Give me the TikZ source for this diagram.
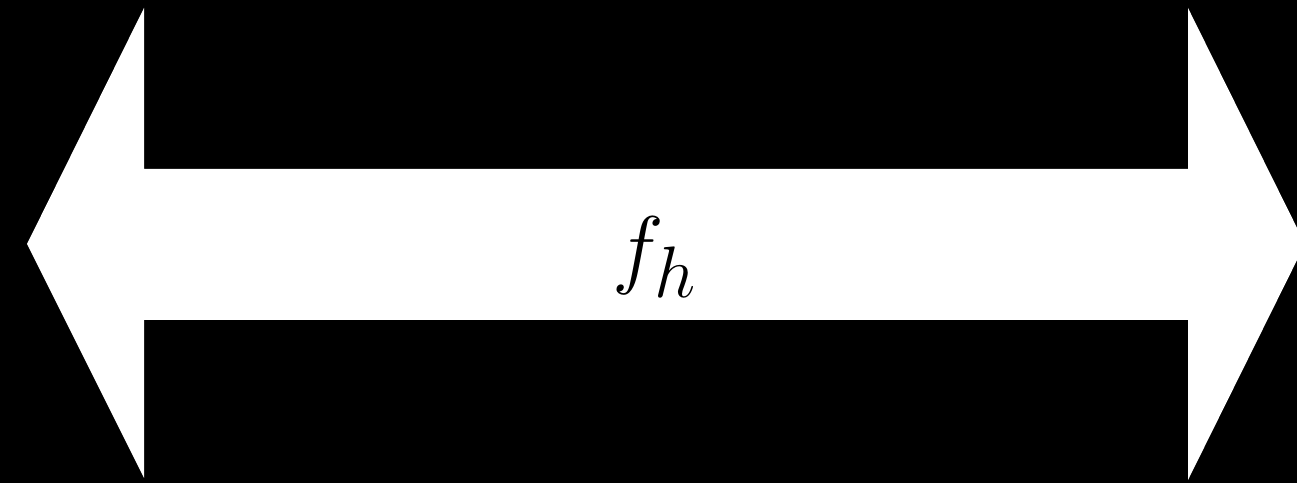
\documentclass[tikz,border=0pt]{standalone}
\usepackage{tikz}
\usetikzlibrary{calc}

\begin{document}
\begin{tikzpicture}[x=0.01cm, y=-0.01cm]
\fill[black] (0,0) rectangle (1297,483);
\useasboundingbox (0,0) rectangle (1297,483);
% double arrow
\fill[white] (27,244) -- (144,8) -- (144,169) -- (1188,169) -- (1188,8)
  -- (1305,244) -- (1188,480) -- (1188,320) -- (144,320) -- (144,478) -- cycle;
\node[text=black, font=\fontsize{29}{35}\selectfont] (fh) at (655,257) {$f_h$};
\end{tikzpicture}
\end{document}
